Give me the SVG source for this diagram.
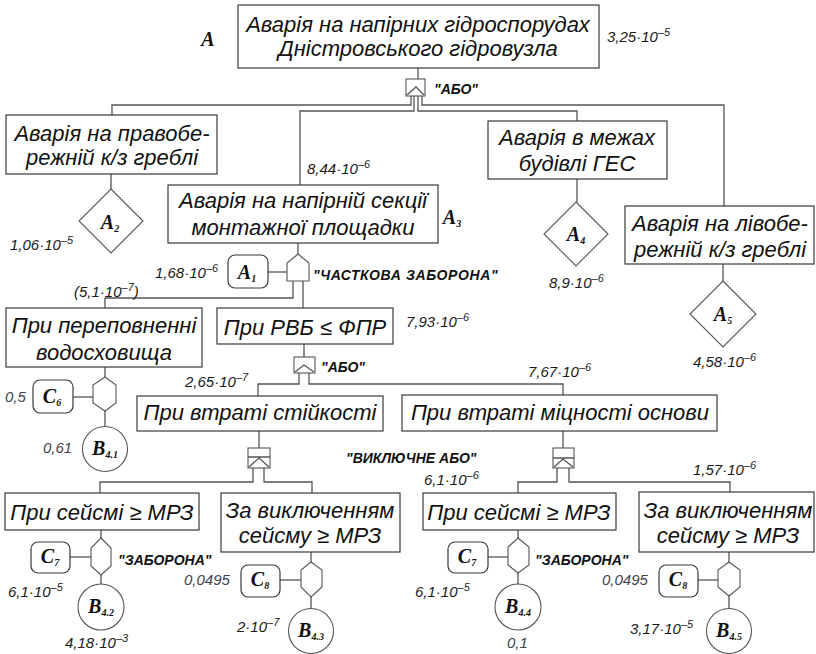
<svg xmlns="http://www.w3.org/2000/svg" width="816" height="654" viewBox="0 0 816 654">
<style>
.box{fill:#fff;stroke:#3a3a3a;stroke-width:1.2}
.shp{fill:#fff;stroke:#555;stroke-width:1.1}
.ln{fill:none;stroke:#555;stroke-width:1.3}
.t{font-family:"Liberation Sans",Arial,sans-serif;font-style:italic;font-size:22px;fill:#111;text-anchor:middle}
.num{font-family:"Liberation Sans",Arial,sans-serif;font-style:italic;font-size:15px;fill:#1a1a1a}
.numg{font-family:"Liberation Sans",Arial,sans-serif;font-style:italic;font-size:15px;fill:#3d4450}
.sup{font-size:11px}
.gl{font-family:"Liberation Sans",Arial,sans-serif;font-weight:bold;font-style:italic;font-size:14px;fill:#111}
.sym{font-family:"Liberation Serif","Times New Roman",serif;font-weight:bold;font-style:italic;font-size:20px;fill:#111;text-anchor:middle}
.sub{font-size:10px}
</style>

<g id="connectors">
<path class="ln" d="M418,68V79"/>
<path class="ln" d="M411,96V105H112V115"/>
<path class="ln" d="M414,96V111H300V185"/>
<path class="ln" d="M418,96V111H577V121"/>
<path class="ln" d="M422,96V105H724V206"/>
<path class="ln" d="M111,174V189"/>
<path class="ln" d="M577,179V202"/>
<path class="ln" d="M723,264V281"/>
<path class="ln" d="M298,243V254"/>
<path class="ln" d="M268,272H287"/>
<path class="ln" d="M293,281V298H105V308"/>
<path class="ln" d="M303,281V308"/>
<path class="ln" d="M105,367V377"/>
<path class="ln" d="M73,397H93"/>
<path class="ln" d="M105,411V427"/>
<path class="ln" d="M304,344V357"/>
<path class="ln" d="M299,373V384H258V396"/>
<path class="ln" d="M309,373V384H563V395"/>
<path class="ln" d="M259,431V448"/>
<path class="ln" d="M253,468V482H100V493"/>
<path class="ln" d="M264,468V482H312V493"/>
<path class="ln" d="M563,431V448"/>
<path class="ln" d="M557,468V482H518V493"/>
<path class="ln" d="M569,468V482H730V492"/>
<path class="ln" d="M101,530V538"/>
<path class="ln" d="M70,557H91"/>
<path class="ln" d="M101,575V584"/>
<path class="ln" d="M311,552V562"/>
<path class="ln" d="M280,580H301"/>
<path class="ln" d="M311,597V609"/>
<path class="ln" d="M518,530V538"/>
<path class="ln" d="M488,557H508"/>
<path class="ln" d="M518,573V584"/>
<path class="ln" d="M729,552V562"/>
<path class="ln" d="M698,580H718"/>
<path class="ln" d="M729,596V609"/>
</g>

<g id="gates">
<g id="g-or-top">
<rect class="shp" x="406" y="79" width="19" height="17"/>
<path class="ln" d="M407,95L416,87L424,95"/>
<text class="gl" x="434" y="94">"АБО"</text>
</g>
<g id="g-partial">
<polygon class="shp" points="287,281 287,263 298,254 309,263 309,281"/>
<text class="gl" x="313" y="280" letter-spacing="0.6">"ЧАСТКОВА ЗАБОРОНА"</text>
</g>
<g id="g-or-2">
<rect class="shp" x="294" y="357" width="21" height="16"/>
<path class="ln" d="M295,372L304,365L314,372"/>
<text class="gl" x="321" y="372">"АБО"</text>
</g>
<g id="g-xor-1">
<rect class="shp" x="248" y="448" width="22" height="20"/>
<path class="ln" d="M248,457H270M249,467L259,458L269,467"/>
<text class="gl" x="346" y="463">"ВИКЛЮЧНЕ АБО"</text>
</g>
<g id="g-xor-2">
<rect class="shp" x="553" y="448" width="21" height="20"/>
<path class="ln" d="M553,458H574M554,467L563,459L573,467"/>
</g>
<g id="g-inh-1">
<polygon class="shp" points="105,377 116,385 116,403 105,411 93,403 93,385"/>
</g>
<g id="g-inh-2">
<polygon class="shp" points="101,538 111,548 111,566 101,575 91,566 91,548"/>
<text class="gl" x="118" y="565">"ЗАБОРОНА"</text>
</g>
<g id="g-inh-3">
<polygon class="shp" points="311,562 322,570 322,587 311,597 301,587 301,570"/>
</g>
<g id="g-inh-4">
<polygon class="shp" points="518,538 529,547 529,565 518,573 508,565 508,547"/>
<text class="gl" x="535" y="565">"ЗАБОРОНА"</text>
</g>
<g id="g-inh-5">
<polygon class="shp" points="729,562 740,570 740,587 729,596 718,587 718,570"/>
</g>
</g>

<g id="n-A">
<rect class="box" x="238" y="5" width="361" height="63"/>
<text class="t" x="418" y="32">Аварія на напірних гідроспорудах</text>
<text class="t" x="418" y="56">Дністровського гідровузла</text>
<text class="sym" x="208" y="46" font-size="17">A</text>
<text class="num" x="607" y="42">3,25·10<tspan class="sup" dy="-6">–5</tspan></text>
</g>

<g id="n-right-dam">
<rect class="box" x="6" y="115" width="211" height="59"/>
<text class="t" x="112" y="141">Аварія на правобе-</text>
<text class="t" x="112" y="165">режній к/з греблі</text>
</g>
<g id="n-A2">
<polygon class="shp" points="111,189 143,221 111,253 79,221"/>
<text class="sym" x="110" y="229" font-size="22">A<tspan class="sub" dy="3" font-size="11">2</tspan></text>
<text class="num" x="10" y="250">1,06·10<tspan class="sup" dy="-6">–5</tspan></text>
</g>

<g id="n-A3">
<rect class="box" x="168" y="185" width="270" height="58"/>
<text class="t" x="303" y="208">Аварія на напірній секції</text>
<text class="t" x="303" y="235">монтажної площадки</text>
<text class="sym" x="452" y="224">A<tspan class="sub" dy="3">3</tspan></text>
<text class="num" x="307" y="174">8,44·10<tspan class="sup" dy="-6">–6</tspan></text>
</g>

<g id="n-ges">
<rect class="box" x="488" y="121" width="179" height="58"/>
<text class="t" x="577" y="145">Аварія в межах</text>
<text class="t" x="577" y="171">будівлі ГЕС</text>
</g>
<g id="n-A4">
<polygon class="shp" points="576,202 608,234 576,266 544,234"/>
<text class="sym" x="576" y="241">A<tspan class="sub" dy="3">4</tspan></text>
<text class="num" x="549" y="288">8,9·10<tspan class="sup" dy="-6">–6</tspan></text>
</g>

<g id="n-left-dam">
<rect class="box" x="625" y="206" width="189" height="58"/>
<text class="t" x="720" y="231">Аварія на лівобе-</text>
<text class="t" x="720" y="257">режній к/з греблі</text>
</g>
<g id="n-A5">
<polygon class="shp" points="723,281 756,314 723,347 690,314"/>
<text class="sym" x="723" y="321">A<tspan class="sub" dy="3">5</tspan></text>
<text class="num" x="693" y="367">4,58·10<tspan class="sup" dy="-6">–6</tspan></text>
</g>

<g id="n-A1">
<rect class="box" x="228" y="255" width="40" height="33" rx="7"/>
<text class="sym" x="247" y="279" font-size="22">A<tspan class="sub" dy="3" font-size="11">1</tspan></text>
<text class="num" x="155" y="278">1,68·10<tspan class="sup" dy="-6">–6</tspan></text>
<text class="num" x="74" y="297">(5,1·10<tspan class="sup" dy="-6">–7</tspan><tspan dy="6">)</tspan></text>
</g>

<g id="n-overflow">
<rect class="box" x="6" y="308" width="196" height="59"/>
<text class="t" x="104" y="333">При переповненні</text>
<text class="t" x="104" y="360">водосховища</text>
</g>
<g id="n-C6">
<rect class="box" x="33" y="380" width="40" height="33" rx="7"/>
<text class="sym" x="52" y="403" font-size="18">C<tspan class="sub" dy="3">6</tspan></text>
<text class="numg" x="5" y="402">0,5</text>
</g>
<g id="n-B41">
<circle class="shp" cx="105" cy="449" r="22.5"/>
<text class="sym" x="105" y="455" font-size="17">B<tspan class="sub" dy="3" font-size="9">4.1</tspan></text>
<text class="numg" x="43" y="453">0,61</text>
</g>

<g id="n-rvb">
<rect class="box" x="217" y="308" width="176" height="36"/>
<text class="t" x="305" y="335">При РВБ ≤ ФПР</text>
<text class="num" x="406" y="327">7,93·10<tspan class="sup" dy="-6">–6</tspan></text>
</g>

<g id="n-stab">
<rect class="box" x="137" y="396" width="246" height="35"/>
<text class="t" x="260" y="420">При втраті стійкості</text>
<text class="num" x="185" y="387">2,65·10<tspan class="sup" dy="-6">–7</tspan></text>
</g>

<g id="n-strength">
<rect class="box" x="402" y="395" width="315" height="36"/>
<text class="t" x="560" y="420">При втраті міцності основи</text>
<text class="num" x="528" y="377">7,67·10<tspan class="sup" dy="-6">–6</tspan></text>
</g>

<g id="n-seis1">
<rect class="box" x="5" y="493" width="194" height="37"/>
<text class="t" x="102" y="520">При сейсмі ≥ МРЗ</text>
</g>
<g id="n-C7a">
<rect class="box" x="31" y="542" width="39" height="31" rx="7"/>
<text class="sym" x="50" y="563" font-size="18">C<tspan class="sub" dy="3">7</tspan></text>
<text class="num" x="8" y="597">6,1·10<tspan class="sup" dy="-6">–5</tspan></text>
</g>
<g id="n-B42">
<circle class="shp" cx="101" cy="607" r="23"/>
<text class="sym" x="101" y="613" font-size="17">B<tspan class="sub" dy="3" font-size="9">4.2</tspan></text>
<text class="num" x="65" y="648">4,18·10<tspan class="sup" dy="-6">–3</tspan></text>
</g>

<g id="n-exseis1">
<rect class="box" x="221" y="493" width="179" height="59"/>
<text class="t" x="310" y="518">За виключенням</text>
<text class="t" x="310" y="543">сейсму ≥ МРЗ</text>
</g>
<g id="n-C8a">
<rect class="box" x="241" y="565" width="39" height="32" rx="7"/>
<text class="sym" x="260" y="586" font-size="18">C<tspan class="sub" dy="3">8</tspan></text>
<text class="numg" x="184" y="585">0,0495</text>
</g>
<g id="n-B43">
<circle class="shp" cx="311" cy="631" r="22.5"/>
<text class="sym" x="311" y="637" font-size="17">B<tspan class="sub" dy="3" font-size="9">4.3</tspan></text>
<text class="num" x="237" y="632">2·10<tspan class="sup" dy="-6">–7</tspan></text>
</g>

<g id="n-seis2">
<rect class="box" x="423" y="493" width="193" height="37"/>
<text class="t" x="519" y="520">При сейсмі ≥ МРЗ</text>
<text class="num" x="424" y="485">6,1·10<tspan class="sup" dy="-6">–6</tspan></text>
</g>
<g id="n-C7b">
<rect class="box" x="448" y="542" width="40" height="31" rx="7"/>
<text class="sym" x="467" y="563" font-size="18">C<tspan class="sub" dy="3">7</tspan></text>
<text class="num" x="415" y="597">6,1·10<tspan class="sup" dy="-6">–5</tspan></text>
</g>
<g id="n-B44">
<circle class="shp" cx="518" cy="607" r="23"/>
<text class="sym" x="518" y="613" font-size="17">B<tspan class="sub" dy="3" font-size="9">4.4</tspan></text>
<text class="numg" x="507" y="648">0,1</text>
</g>

<g id="n-exseis2">
<rect class="box" x="639" y="492" width="175" height="60"/>
<text class="t" x="728" y="518">За виключенням</text>
<text class="t" x="728" y="543">сейсму ≥ МРЗ</text>
<text class="num" x="693" y="475">1,57·10<tspan class="sup" dy="-6">–6</tspan></text>
</g>
<g id="n-C8b">
<rect class="box" x="659" y="565" width="39" height="32" rx="7"/>
<text class="sym" x="678" y="586" font-size="18">C<tspan class="sub" dy="3">8</tspan></text>
<text class="numg" x="602" y="585">0,0495</text>
</g>
<g id="n-B45">
<circle class="shp" cx="729" cy="631" r="22.5"/>
<text class="sym" x="729" y="637" font-size="17">B<tspan class="sub" dy="3" font-size="9">4.5</tspan></text>
<text class="num" x="630" y="634">3,17·10<tspan class="sup" dy="-6">–5</tspan></text>
</g>
</svg>
